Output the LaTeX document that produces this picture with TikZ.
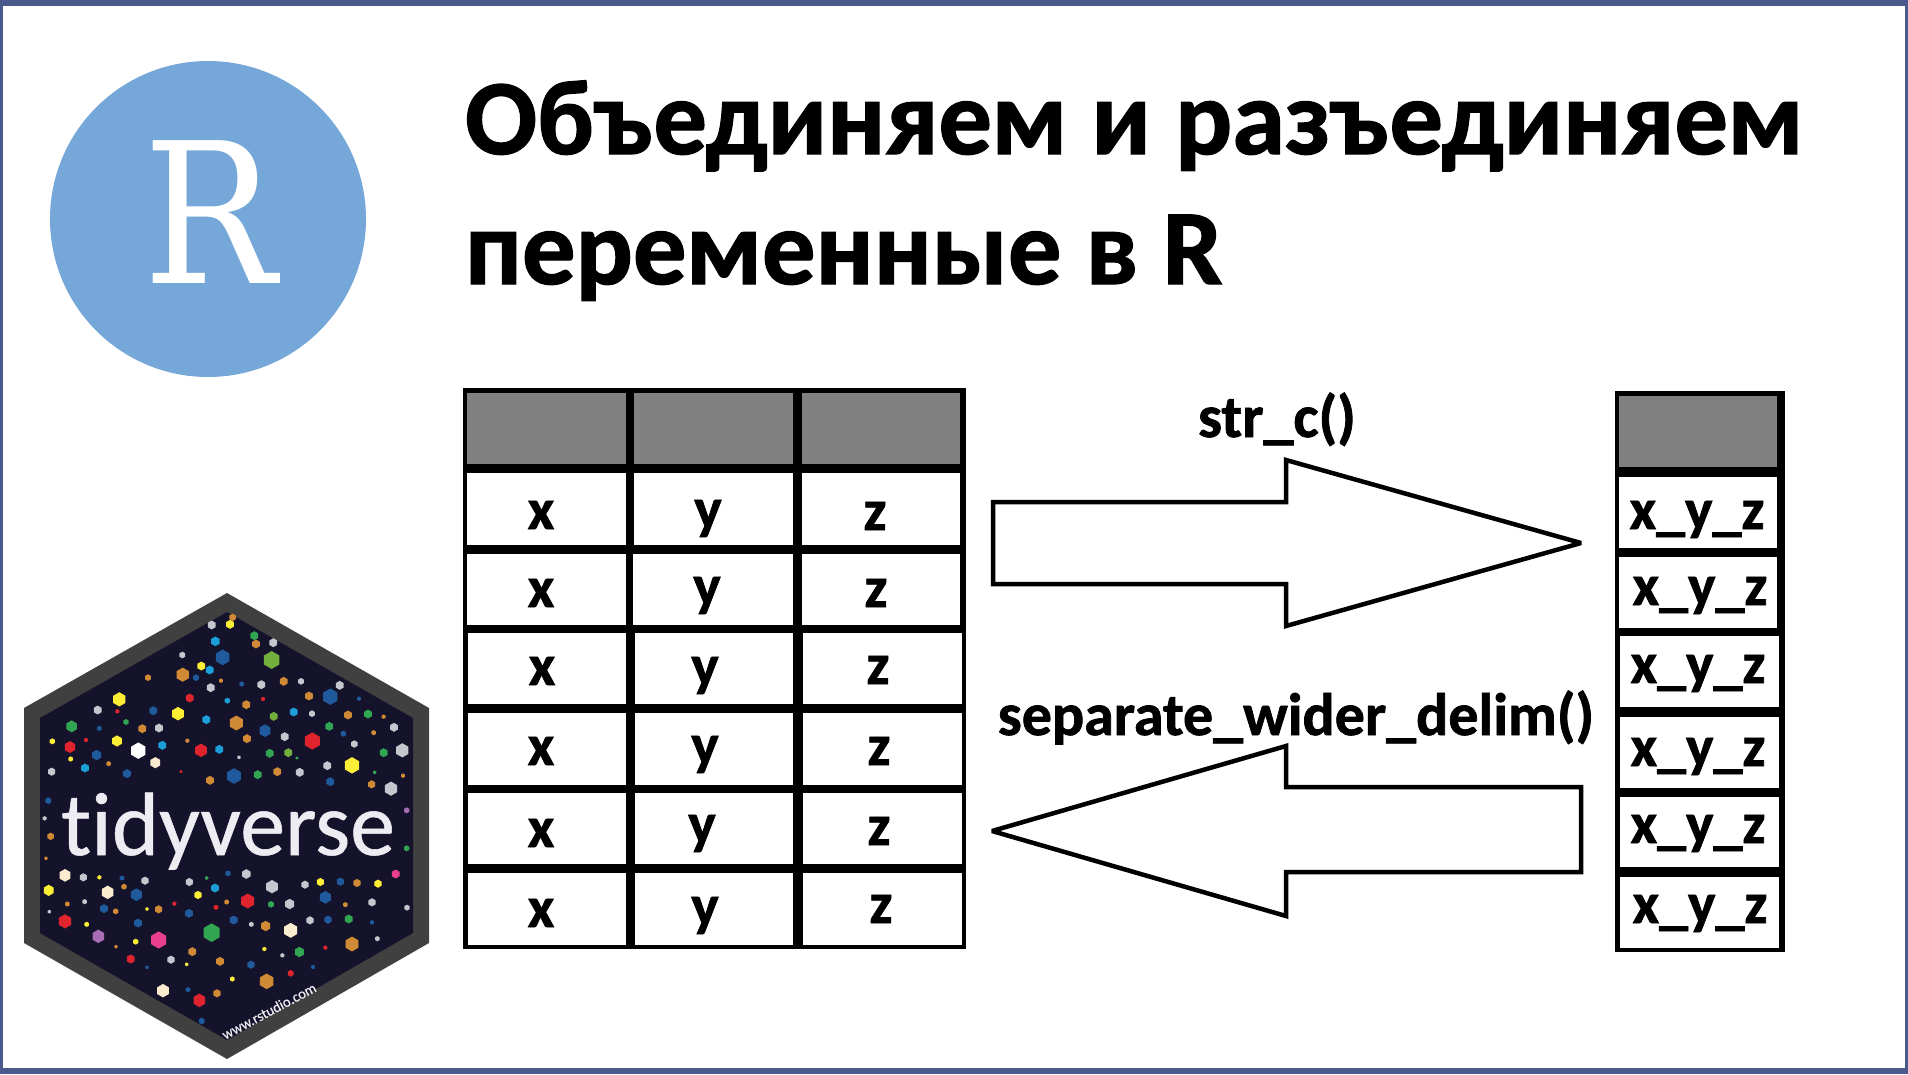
\documentclass[tikz,border=0pt]{standalone}
\usepackage{graphicx}
\usepackage{fontspec}
\setmainfont{Carlito}
\newfontfamily\slabfont{DejaVu Serif}
\newfontfamily\heavyfont{Carlito}[BoldFeatures={FakeBold=1.2}]
\newfontfamily\tidyfont{Carlito}[FakeBold=0.6,Ligatures=NoCommon]
\definecolor{frameblue}{HTML}{4A5A8C}
\definecolor{rblue}{HTML}{75A8D8}
\definecolor{hexrim}{HTML}{404040}
\definecolor{hexbg}{HTML}{14132B}
\definecolor{headgray}{HTML}{808080}
\definecolor{tidywhite}{HTML}{ECECF2}
\definecolor{yel}{HTML}{FBEE35}
\definecolor{blu}{HTML}{1F5A9C}
\definecolor{cya}{HTML}{1C9FD8}
\definecolor{org}{HTML}{D08A35}
\definecolor{gry}{HTML}{C6C6CE}
\definecolor{grn}{HTML}{32A552}
\definecolor{lime}{HTML}{74AE3C}
\definecolor{red}{HTML}{E0242E}
\definecolor{wht}{HTML}{FFFFFF}
\definecolor{cream}{HTML}{FBEBCF}
\definecolor{pur}{HTML}{A96DB5}
\definecolor{pink}{HTML}{E8408F}
\tikzset{
  celltext/.style={anchor=base,inner sep=0pt,outer sep=0pt,font=\heavyfont\bfseries\fontsize{58}{60}\selectfont},
  fntext/.style={anchor=base,inner sep=0pt,outer sep=0pt,font=\heavyfont\bfseries\fontsize{60}{62}\selectfont},
  titletext/.style={anchor=base west,inner sep=0pt,outer sep=0pt,font=\heavyfont\bfseries\fontsize{106.7}{107}\selectfont},
  blockarrow/.style={draw=black,fill=white,line width=4.5pt,line join=miter,miter limit=3}
}
\begin{document}
\begin{tikzpicture}[x=1pt,y=-1pt]
\useasboundingbox (0,0) rectangle (1908,1074);
\fill[frameblue] (0,0) rectangle (1908,1074);
\fill[white] (3,6) rectangle (1905,1068);
% R logo
\node[circle,fill=rblue,minimum size=316pt,inner sep=0pt] (rlogo) at (208,219) {};
\node[anchor=base,inner sep=0pt,text=white,font=\slabfont\fontsize{196}{196}\selectfont] (rletter) at (210,283) {\scalebox{0.9}[1]{R}};
% title
\node[titletext] (title1) at (465,154) {Объединяем и разъединяем};
\node[titletext] (title2) at (465,284) {переменные в R};
% hexagon
\fill[hexrim] (227,593) -- (429,708) -- (429,943) -- (227,1059) -- (24,943) -- (24,708) -- cycle;
\fill[hexbg] (227,612) -- (413,718) -- (413,933) -- (227,1040) -- (40,933) -- (40,718) -- cycle;
\begin{scope}[shift={(0,570)},x=0.33333pt,y=-0.33333pt]
\foreach \x/\y/\r/\c in {
635/165/12/gry,690/163/12/yel,698/142/10/org,763/197/12/grn,768/222/12/org,820/218/12/gry,646/214/13/cya,668/262/21/blu,815/270/24/lime,547/255/9/gry,604/288/12/yel,629/300/12/cya,548/314/19/org,588/323/9/blu,444/323/9/org,663/332/6/org,632/353/12/gry,725/342/7/blu,784/344/12/gry,851/334/12/org,903/334/9/gry,1019/346/12/gry,569/384/12/red,358/388/19/yel,682/392/8/cya,739/404/12/org,789/387/6/red,927/378/12/org,991/380/22/blu,1077/386/6/blu,293/420/12/gry,352/424/6/red,460/422/12/blu,534/431/18/yel,821/439/12/lime,881/426/12/cya,936/431/9/gry,1044/435/12/org,1104/432/12/grn,1151/440/6/org,378/456/8/grn,215/469/16/grn,298/475/7/blu,427/476/12/org,477/474/12/gry,619/449/12/cya,709/459/20/org,795/482/17/blu,988/469/12/grn,1030/491/8/blu,1121/488/7/org,1182/472/12/gry,157/514/8/yel,258/510/6/red,351/513/15/yel,741/506/12/org,854/500/12/gry,937/513/23/red,210/531/16/red,415/542/22/wht,487/526/12/cya,562/512/6/org,603/541/18/red,658/538/12/cya,1063/522/10/gry,809/550/12/grn,865/548/12/lime,1151/548/12/grn,1207/541/19/gry,212/567/7/yel,290/555/14/blu,717/562/5/gry,891/564/4/grn,466/578/15/cream,326/581/7/org,255/594/12/cya,982/587/12/gry,1056/586/22/yel,155/605/11/gry,381/611/12/blu,543/605/4/red,702/618/21/blu,773/614/12/grn,832/605/12/org,899/607/12/gry,1124/607/5/grn,1209/617/6/org,630/631/12/org,991/635/12/blu,1115/643/11/org,1173/656/19/gry,145/692/9/blu,1220/721/8/pur,134/745/6/gry,152/799/10/org,1220/835/8/grn,138/865/5/org,195/916/17/cream,250/922/11/gry,298/922/6/yel,366/924/7/blu,435/932/11/gry,568/936/11/gry,620/924/5/grn,684/910/8/blu,739/912/13/gry,1187/912/12/pink,372/950/8/org,146/961/15/yel,323/967/18/cream,409/974/17/blu,594/975/11/yel,645/954/12/cya,816/950/18/gry,915/944/11/gry,961/936/11/yel,1021/935/11/blu,1071/939/11/org,1134/941/11/yel,743/993/20/red,976/982/17/blu,202/1002/7/org,254/995/7/gry,523/1001/6/red,680/996/7/org,813/1003/9/grn,869/1002/14/gry,1036/1004/7/org,1116/997/11/gry,148/1025/5/gry,312/1016/12/blu,347/1024/8/org,441/1017/5/yel,476/1018/11/org,648/1012/7/red,567/1030/12/blu,1221/1013/8/gry,195/1054/19/red,260/1063/7/yel,414/1059/12/blu,701/1050/12/blu,754/1063/7/gry,797/1068/14/org,930/1051/11/gry,984/1049/11/blu,1046/1047/12/grn,1116/1057/6/blu,872/1081/20/cream,295/1099/18/pur,635/1088/25/grn,407/1115/8/yel,476/1110/23/pink,1132/1106/7/gry,1056/1122/20/org,348/1130/5/org,577/1145/12/org,793/1137/6/yel,976/1133/6/red,898/1146/14/grn,392/1167/12/red,513/1169/11/gry,847/1156/6/gry,660/1174/12/org,441/1192/5/blu,560/1183/5/yel,753/1184/11/blu,939/1191/6/blu,872/1210/9/red,697/1227/7/yel,800/1234/21/org,489/1262/18/cream,564/1259/7/blu,651/1270/11/org,598/1291/18/red,605/1353/9/blu}
{\fill[\c,shift={(\x,\y)}] (90:1.12*\r) -- (30:1.12*\r) -- (-30:1.12*\r) -- (-90:1.12*\r) -- (-150:1.12*\r) -- (150:1.12*\r) -- cycle;}
\end{scope}
\node[anchor=base,inner sep=0pt,text=tidywhite,font=\tidyfont\fontsize{90}{90}\selectfont] (tidy) at (228,855) {t\kern0pt idyverse};
\node[inner sep=0pt,rotate=28,text=tidywhite,font=\tidyfont\fontsize{14.5}{15}\selectfont] (www) at (269,1011) {www.rstudio.com};
% left table
\fill[black] (462.5,388) rectangle (966,949);
\foreach \a/\b/\c/\d/\e/\f/\t/\u in {
 467/625.5/634/792.5/802/960/393/464,
 467/625.5/634/793/802/960/473/545,
 467/625.5/633/793/802/960/554/625,
 468/626/635/793/803/962/633/704,
 468/626/635/793/803/962/713/785,
 468/626/635/793/803/962/793/864,
 468/626/635/793/803/962/873/945}
{\fill[white] (\a,\t) rectangle (\b,\u); \fill[white] (\c,\t) rectangle (\d,\u); \fill[white] (\e,\t) rectangle (\f,\u);}
\fill[headgray] (467,393) rectangle (625.5,464);
\fill[headgray] (634,393) rectangle (792.5,464);
\fill[headgray] (802,393) rectangle (960,464);
\node[celltext] (ax1) at (541,529) {x};
\node[celltext] (ay1) at (708,528) {y};
\node[celltext] (az1) at (875,530) {z};
\node[celltext] (ax2) at (541,607) {x};
\node[celltext] (ay2) at (707,605) {y};
\node[celltext] (az2) at (876,607) {z};
\node[celltext] (ax3) at (542,685) {x};
\node[celltext] (ay3) at (705,685) {y};
\node[celltext] (az3) at (878,684) {z};
\node[celltext] (ax4) at (541,765) {x};
\node[celltext] (ay4) at (705,764) {y};
\node[celltext] (az4) at (879,765) {z};
\node[celltext] (ax5) at (541,847) {x};
\node[celltext] (ay5) at (702,843) {y};
\node[celltext] (az5) at (879,845) {z};
\node[celltext] (ax6) at (541,927) {x};
\node[celltext] (ay6) at (705,925) {y};
\node[celltext] (az6) at (881,923) {z};
% right table
\fill[black] (1615,391) rectangle (1785,952);
\foreach \a/\b/\t/\u in {1619/1777/477/548,1619/1777/557/628,1620/1779/636/707,1620/1779/717/788,1620/1779/797/867,1620/1779/877/948}
{\fill[white] (\a,\t) rectangle (\b,\u);}
\fill[headgray] (1619,396) rectangle (1777,467);
\node[celltext] (b1) at (1697,529) {x\_y\_z};
\node[celltext] (b2) at (1700,605) {x\_y\_z};
\node[celltext] (b3) at (1698,683) {x\_y\_z};
\node[celltext] (b4) at (1698,766) {x\_y\_z};
\node[celltext] (b5) at (1698,843) {x\_y\_z};
\node[celltext] (b6) at (1700,923) {x\_y\_z};
% block arrows
\draw[blockarrow] (993,502) -- (1286,502) -- (1286,460) -- (1581,543) -- (1286,626) -- (1286,584) -- (993,584) -- cycle;
\draw[blockarrow] (1581,787) -- (1286,787) -- (1286,746) -- (992,831) -- (1286,916) -- (1286,872) -- (1581,872) -- cycle;
\node[fntext] (strc) at (1277,437) {str\_c()};
\node[fntext] (sep) at (1296,735) {separate\_wider\_delim()};
\end{tikzpicture}
\end{document}
